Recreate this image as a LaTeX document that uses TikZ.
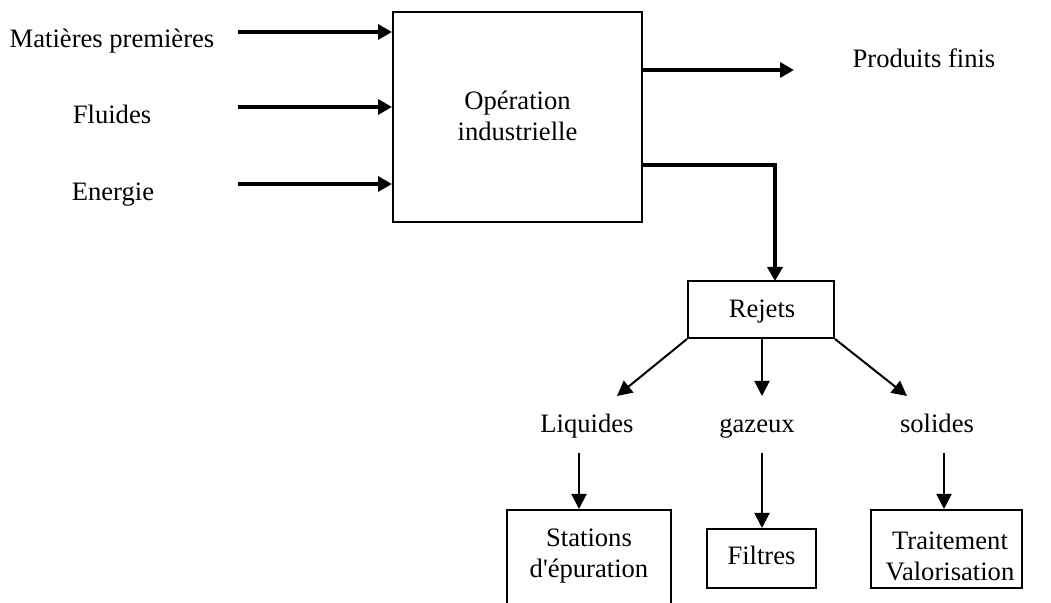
\documentclass[tikz,border=0pt]{standalone}
\usepackage{fontspec}
\setmainfont{Liberation Serif}
\usetikzlibrary{arrows.meta}
\begin{document}
\begin{tikzpicture}[x=0.5pt,y=-0.5pt,
  txt/.style={font=\fontsize{13.3}{15.5}\selectfont,inner sep=0pt,align=center},
  lbl/.style={txt,text height=9.3pt,text depth=3pt},
  thickarr/.style={line width=2pt,-{Triangle[length=7pt,width=7.5pt]}},
  thinarr/.style={line width=1pt,-{Triangle[length=7.5pt,width=7.5pt]}}]
\clip (0,0) rectangle (1051,603);
\useasboundingbox (0,0) rectangle (1051,603);
% boxes
\node[draw,line width=1pt,minimum width=124.5pt,minimum height=105pt] (main) at (517.5,117) {};
\node[txt] (optxt) at (517.5,116) {Opération\\industrielle};
\node[draw,line width=1pt,minimum width=73pt,minimum height=28.5pt] (rejets) at (761,309.5) {};
\node[lbl] at (762,311) {Rejets};
\node[draw,line width=1pt,minimum width=82pt,minimum height=55pt] (stations) at (589,565) {};
\node[txt] at (589,556) {Stations\\d\textquotesingle épuration};
\node[draw,line width=1pt,minimum width=54.5pt,minimum height=29.5pt] (filtres) at (761.5,558.5) {};
\node[lbl] at (filtres.center) {Filtres};
\node[draw,line width=1pt,minimum width=75.5pt,minimum height=39pt] (trait) at (946.5,549) {};
\node[txt] at (950,556) {Traitement\\Valorisation};
% labels
\node[lbl] (mp) at (112,41) {Matières premières};
\node[lbl] (fl) at (112,117) {Fluides};
\node[lbl] (en) at (113,194) {Energie};
\node[lbl] (pf) at (924,61) {Produits finis};
\node[lbl] (liq) at (587,426) {Liquides};
\node[lbl] (gaz) at (757,426) {gazeux};
\node[lbl] (sol) at (937,426) {solides};
% coordinates
\coordinate (a1) at (238,32);
\coordinate (a2) at (238,107);
\coordinate (a3) at (238,184);
\coordinate (pfe) at (794,70);
\coordinate (rs) at (642,165);
\coordinate (re) at (775,281);
\coordinate (lq) at (617,396);
\coordinate (gz) at (762,396);
\coordinate (sd) at (907,396);
\coordinate (lq2) at (579,453);
\coordinate (gz2) at (762,453);
\coordinate (sd2) at (944,453);
% arrows
\draw[thickarr] (a1) -- (main.west |- a1);
\draw[thickarr] (a2) -- (main.west |- a2);
\draw[thickarr] (a3) -- (main.west |- a3);
\draw[thickarr] (main.east |- pfe) -- (pfe);
\draw[thickarr] (rs) -| (re);
\draw[thinarr] (rejets.south west) -- (lq);
\draw[thinarr] (rejets.south -| gz) -- (gz);
\draw[thinarr] (rejets.south east) -- (sd);
\draw[thinarr] (lq2) -- (stations.north -| lq2);
\draw[thinarr] (gz2) -- (filtres.north -| gz2);
\draw[thinarr] (sd2) -- (trait.north -| sd2);
\end{tikzpicture}
\end{document}
